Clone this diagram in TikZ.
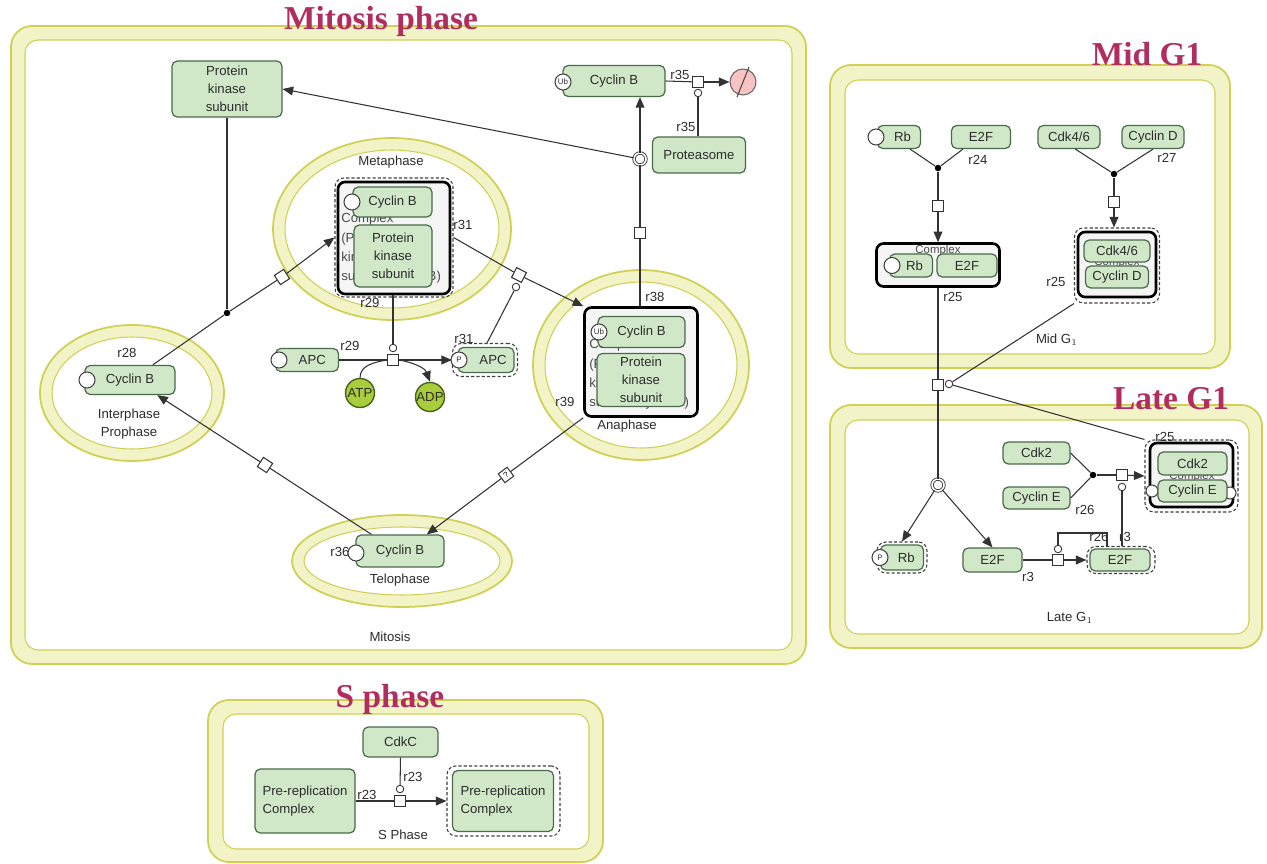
\documentclass[tikz,border=0pt]{standalone}
\usepackage{fontspec}
\setmainfont{Liberation Sans}
\newfontfamily\ttlfont{Liberation Serif}
\usetikzlibrary{arrows.meta,calc}
\definecolor{nodefill}{RGB}{208,232,200}
\definecolor{nodeedge}{RGB}{75,105,75}
\definecolor{bandfill}{RGB}{243,243,200}
\definecolor{bandedge}{RGB}{208,208,85}
\definecolor{ttlc}{RGB}{178,45,95}
\definecolor{txt}{RGB}{45,45,45}
\definecolor{atpfill}{RGB}{170,205,60}
\definecolor{atpedge}{RGB}{70,100,30}
\definecolor{emptyfill}{RGB}{248,195,195}
\newcommand\mylf{\fontsize{7.5}{10.3}\selectfont}
\newcommand\myhf{\fontsize{7.5}{11}\selectfont}
\newcommand\mytf{\fontsize{4.5}{5}\selectfont}
\begin{document}
\begin{tikzpicture}[x=0.02cm,y=-0.02cm,
  sz/.style 2 args={minimum width=#1*0.02cm,minimum height=#2*0.02cm},
  spec/.style={draw=nodeedge,fill=nodefill,rounded corners=3pt,line width=0.7pt,inner sep=0pt,font=\mylf,text=txt,align=center},
  cplx/.style={draw=black,line width=1.5pt,rounded corners=4pt,fill=black!4,inner sep=0pt},
  dsh/.style={draw=black!75,dash pattern=on 1.8pt off 1.2pt,rounded corners=5pt,line width=0.6pt,inner sep=0pt},
  mod/.style={circle,draw=black!75,fill=white,line width=0.6pt,minimum size=0.32cm,inner sep=0pt,font=\mytf,text=txt},
  proc/.style={draw=black!80,fill=white,line width=0.6pt,minimum size=0.22cm,inner sep=0pt},
  cat/.style={circle,draw=black!80,fill=white,line width=0.5pt,minimum size=0.15cm,inner sep=0pt},
  jdot/.style={circle,fill=black,minimum size=0.13cm,inner sep=0pt},
  dbl/.style={circle,draw=black!75,double,double distance=0.9pt,line width=0.5pt,minimum size=0.24cm,inner sep=0pt},
  ln/.style={line width=0.6pt,draw=black!80},
  arr/.style={ln,-{Triangle[length=6pt,width=5pt]}},
  lbl/.style={font=\mylf,text=txt,inner sep=0pt,align=center},
  ttl/.style={font=\ttlfont\bfseries\fontsize{19}{19}\selectfont,text=ttlc,inner sep=0pt,anchor=base},
  band/.style={draw=bandedge,fill=bandfill,line width=1pt},
  inband/.style={draw=bandedge,fill=white,line width=0.6pt},
  metab/.style={circle,draw=atpedge,fill=atpfill,line width=0.8pt,minimum size=0.58cm,inner sep=0pt,font=\mylf,text=txt},
  hid/.style={font=\myhf,text=txt!85,inner sep=0pt,align=left},
  emp/.style={circle,draw=black!60,fill=emptyfill,line width=0.6pt,minimum size=0.52cm,inner sep=0pt}
]
\useasboundingbox (0,0) rectangle (1267,864);
\fill[white] (0,0) rectangle (1267,864);

% ---------- compartments ----------
\draw[band,rounded corners=0.42cm] (11,26) rectangle (806,664);
\draw[inband,rounded corners=0.26cm] (25,40) rectangle (792,650);
\draw[band,rounded corners=0.42cm] (830,65) rectangle (1230,368);
\draw[inband,rounded corners=0.26cm] (845,80) rectangle (1215,354);
\draw[band,rounded corners=0.42cm] (830,405) rectangle (1262,648);
\draw[inband,rounded corners=0.26cm] (845,420) rectangle (1249,634);
\draw[band,rounded corners=0.42cm] (208,700) rectangle (603,862);
\draw[inband,rounded corners=0.26cm] (223,714) rectangle (589,849);

% ellipses
\draw[band] (392,229) ellipse [x radius=2.38cm, y radius=1.82cm];
\draw[inband] (392,229) ellipse [x radius=2.14cm, y radius=1.58cm];
\draw[band] (641,365) ellipse [x radius=2.16cm, y radius=1.90cm];
\draw[inband] (641,365) ellipse [x radius=1.92cm, y radius=1.66cm];
\draw[band] (132,393) ellipse [x radius=1.84cm, y radius=1.36cm];
\draw[inband] (132,393) ellipse [x radius=1.60cm, y radius=1.12cm];
\draw[band] (402,561) ellipse [x radius=2.20cm, y radius=0.92cm];
\draw[inband] (402,561) ellipse [x radius=1.96cm, y radius=0.68cm];

% titles
\node[ttl] (t1) at (381,30) {Mitosis phase};
\node[ttl] (t2) at (1147,66) {Mid G1};
\node[ttl] (t3) at (1171,410) {Late G1};
\node[ttl] (t4) at (390,707) {S phase};

% ---------- Mitosis ----------
\node[spec,sz={110}{56}] (pksT) at (227,89) {Protein\\kinase\\subunit};
\node[spec,sz={102}{31}] (cybUb) at (614,81) {Cyclin B};
\node[mod] (ubm) at (563,82) {Ub};
\node[proc] (s35) at (698,82) {};
\node[cat] (cat35) at (698,93) {};
\node[emp] (empty) at (743,82) {};
\draw[black!70,line width=0.6pt] ($(empty)+(-6,15)$) -- ($(empty)+(6,-15)$);
\node[spec,sz={93}{36}] (prot) at (699,155) {Proteasome};
\node[dbl] (D1) at (640,159) {};
\node[proc] (s38) at (640,233) {};

% metaphase
\node[lbl] (lMeta) at (391,162) {Metaphase};
\node[dsh,sz={118}{119}] (dshM) at (394,237.5) {};
\node[cplx,sz={112}{112}] (cplxM) at (394,238) {};
\node[hid,anchor=north west] (hM) at (341,213) {Complex\\(Protein\\kinase\\subunit-Cyclin B)};
\node[spec,sz={79}{30}] (cybM) at (392.5,202) {Cyclin B};
\node[mod] (mM) at (352,202) {};
\node[spec,sz={78}{62}] (pksM) at (393,256) {Protein\\kinase\\subunit};
\node[lbl] (l31a) at (463,225) {r31};
\node[lbl] (l29a) at (370,303) {r29};

% APC
\node[spec,sz={63}{23}] (apc) at (307,360) {\hspace*{6pt}APC};
\node[mod] (mapc) at (279,360) {};
\node[proc] (s29) at (393,360) {};
\node[cat] (cat29) at (393,348) {};
\node[dsh,sz={65}{33}] (papcD) at (485,360) {};
\node[spec,sz={56}{25}] (papc) at (486,360) {\hspace*{8pt}APC};
\node[mod] (mp) at (459,360) {P};
\node[metab] (atp) at (360,393) {ATP};
\node[metab] (adp) at (430,397) {ADP};
\node[lbl] (l29b) at (350,346) {r29};
\node[lbl] (l31b) at (464,339) {r31};

% anaphase
\node[cplx,sz={113}{109}] (cplxA) at (641,362) {};
\node[hid,anchor=north west] (hA) at (589,339) {Complex\\(Protein\\kinase\\subunit-Cyclin B)};
\node[spec,sz={87}{31}] (cybA) at (641.5,332) {Cyclin B};
\node[mod] (mA) at (599,332) {Ub};
\node[spec,sz={88}{53}] (pksA) at (641,380) {Protein\\kinase\\subunit};
\node[lbl] (lAna) at (627,426) {Anaphase};
\node[lbl] (l38) at (655,297) {r38};
\node[lbl] (l39) at (565,402) {r39};
\node[lbl] (l35a) at (680,75) {r35};
\node[lbl] (l35b) at (686,127) {r35};

% interphase
\node[spec,sz={90}{29}] (cybI) at (130,380) {Cyclin B};
\node[mod] (mI) at (87,380) {};
\node[lbl] (l28) at (127,353) {r28};
\node[lbl] (lInt) at (129,424) {Interphase\\Prophase};

% telophase
\node[lbl] (l36) at (340,552) {r36};
\node[spec,sz={88}{32}] (cybT) at (400,551) {Cyclin B};
\node[mod] (mT) at (356,553) {};
\node[lbl] (lTel) at (400,580) {Telophase};
\node[lbl] (lMit) at (390,637) {Mitosis};

% junctions and diamonds
\node[jdot] (J1) at (227,313) {};
\node[proc,rotate=33] (dm1) at (282,277) {};
\node[proc,rotate=-27] (dm2) at (519,275) {};
\node[cat] (cat31) at (516,287) {};
\node[proc,rotate=37,font=\mytf] (dq) at (506,475) {?};
\node[proc,rotate=-33] (dm3) at (265,465) {};

% mitosis connectors
\draw[ln] (s38 |- cplxA.north) -- (s38);
\draw[ln] (s38) -- (D1);
\draw[arr] (D1) -- (D1 |- cybUb.south);
\draw[arr] (D1) -- (pksT.east);
\draw[ln] (cybUb.east) -- (s35);
\draw[arr] (s35) -- (empty);
\draw[ln] (cat35 |- prot.north) -- (cat35);
\draw[ln] (pksT.south) -- (J1);
\draw[ln] ($(cybI.north)!0.5!(cybI.north east)$) -- (J1);
\draw[ln] (J1) -- (dm1);
\draw[arr] (dm1) -- (dshM.west);
\draw[ln] (dshM.east) -- (dm2);
\draw[arr] (dm2) -- (cplxA.north west);
\draw[ln] (cat31) -- ($(papcD.north)+(2,0)$);
\draw[ln] (apc.east) -- (s29);
\draw[arr] (s29) -- (papcD.west);
\draw[ln] (s29 |- cplxM.south) -- (cat29);
\draw[ln] (atp.north) to[out=90,in=190] (s29.west);
\draw[arr] (s29.east) to[out=-10,in=110] (adp.north);
\draw[ln] (cplxA.south west) -- (dq);
\draw[arr] (dq) -- ($(cybT.north)!0.6!(cybT.north east)$);
\draw[ln] ($(cybT.north west)!0.36!(cybT.north)$) -- (dm3);
\draw[arr] (dm3) -- ($(cybI.south)!0.6!(cybI.south east)$);

% ---------- Mid G1 ----------
\node[spec,sz={43}{23}] (rb1) at (899,137) {\hspace*{4pt}Rb};
\node[mod] (mrb1) at (876,137) {};
\node[spec,sz={59}{23}] (e2f1) at (981,137) {E2F};
\node[spec,sz={62}{23}] (cdk46) at (1069,137) {Cdk4/6};
\node[spec,sz={62}{23}] (cycD) at (1153,137) {Cyclin D};
\node[jdot] (J2) at (938,168) {};
\node[jdot] (J3) at (1114,174) {};
\node[proc] (s24) at (938,206) {};
\node[proc] (s27) at (1114,202) {};
\node[lbl] (l24) at (978,160) {r24};
\node[lbl] (l27) at (1167,158) {r27};

\node[cplx,sz={123}{43}] (cplxRE) at (938,265) {};
\node[hid,font=\fontsize{6.5}{7}\selectfont] (hRE) at (938,251) {Complex};
\node[spec,sz={43}{23}] (rbC) at (911,265.5) {\hspace*{4pt}Rb};
\node[mod] (mrbC) at (892,265.5) {};
\node[spec,sz={60}{23}] (e2fC) at (967,265.5) {E2F};
\node[lbl] (l25a) at (953,297) {r25};

\node[dsh,sz={85}{75}] (cdD) at (1117,265.5) {};
\node[cplx,sz={78}{65}] (cdC) at (1117,264.5) {};
\node[hid,font=\fontsize{6.5}{7}\selectfont] (hCD) at (1117,263) {Complex};
\node[spec,sz={66}{22}] (cdkC) at (1117,251) {Cdk4/6};
\node[spec,sz={63}{22}] (cycDC) at (1117,277) {Cyclin D};
\node[lbl] (l25b) at (1056,282) {r25};
\node[lbl] (lMid) at (1057,340) {Mid G$_1$};

% transition
\node[proc] (s25) at (938,385) {};
\node[cat] (cat25) at (949,384) {};
\node[dbl] (D2) at (938,485) {};

% ---------- Late G1 ----------
\node[spec,sz={67}{22}] (cdk2) at (1036.5,453) {Cdk2};
\node[spec,sz={67}{22}] (cycE) at (1036.5,498) {Cyclin E};
\node[jdot] (J4) at (1093,475) {};
\node[proc] (s26) at (1122,475) {};
\node[cat] (cat26) at (1122,487) {};
\node[lbl] (l26a) at (1085,510) {r26};

\node[dsh,sz={93}{72}] (ltD) at (1191.5,476) {};
\node[cplx,sz={83}{64}] (ltC) at (1191.5,475) {};
\node[mod,minimum size=0.24cm] (mlt1) at (1152,491) {};
\node[mod,minimum size=0.24cm] (mlt2) at (1230,493) {};
\node[hid,font=\fontsize{6.5}{7}\selectfont] (hLT) at (1192,477) {Complex};
\node[spec,sz={69}{23}] (cdk2C) at (1192.5,463.5) {Cdk2};
\node[spec,sz={69}{22}] (cycEC) at (1192.5,491) {Cyclin E};
\node[lbl] (l25c) at (1165,437) {r25};

\node[dsh,sz={50}{31}] (prbD) at (902,557.5) {};
\node[spec,sz={43}{25}] (prb) at (902,557.5) {\hspace*{5pt}Rb};
\node[mod] (mprb) at (880,557.5) {P};
\node[spec,sz={59}{24}] (e2f2) at (992.5,560) {E2F};
\node[proc] (s3) at (1058,560) {};
\node[cat] (cat3) at (1058,549) {};
\node[dsh,sz={68}{27}] (e2f3D) at (1121,560) {};
\node[spec,sz={60}{22}] (e2f3) at (1120,560) {E2F};
\node[lbl] (l3a) at (1028,577) {r3};
\node[lbl] (l26b) at (1099,537) {r26};
\node[lbl] (l3b) at (1125,537) {r3};
\node[lbl] (lLate) at (1070,618) {Late G$_1$};

% G1 connectors
\draw[ln] ($(rb1.south)!0.5!(rb1.south east)$) -- (J2);
\draw[ln] ($(e2f1.south west)!0.4!(e2f1.south)$) -- (J2);
\draw[ln] (J2) -- (s24);
\draw[arr] (s24) -- (s24 |- cplxRE.north);
\draw[ln] ($(cdk46.south)!0.2!(cdk46.south east)$) -- (J3);
\draw[ln] (cycD.south) -- (J3);
\draw[ln] (J3) -- (s27);
\draw[arr] (s27) -- (s27 |- cdD.north);
\draw[ln] (cplxRE.south) -- (s25);
\draw[ln] (s25) -- (D2);
\draw[arr] (D2) -- (prbD.north);
\draw[arr] (D2) -- (e2f2.north);
\draw[ln] (cdD.south west) -- (cat25);
\draw[ln] (cat25) -- (ltD.north west);
\draw[ln] (cdk2.east) -- (J4);
\draw[ln] (cycE.east) -- (J4);
\draw[ln] (J4) -- (s26);
\draw[arr] (s26) -- (ltD.west);
\draw[ln] (cat26 |- e2f3D.north) -- (cat26);
\draw[ln] (e2f2.east) -- (s3);
\draw[arr] (s3) -- (e2f3D.west);
\coordinate (k3) at (1107,533);
\draw[ln] (cat3) |- (k3) -- (k3 |- e2f3D.north);

% ---------- S phase ----------
\node[spec,sz={75}{30}] (cdkc) at (400.5,742) {CdkC};
\node[spec,sz={100}{64},align=left] (preL) at (305,801) {Pre-replication\\Complex};
\node[dsh,sz={113}{70}] (preRD) at (503.5,801) {};
\node[spec,sz={101}{61},align=left] (preR) at (503,801) {Pre-replication\\Complex};
\node[proc] (s23) at (400,801) {};
\node[cat] (cat23) at (400,789) {};
\node[lbl] (l23a) at (413,777) {r23};
\node[lbl] (l23b) at (367,795) {r23};
\node[lbl] (lS) at (403,835) {S Phase};
\draw[ln] (preL.east) -- (s23);
\draw[arr] (s23) -- (preRD.west);
\draw[ln] (cdkc.south) -- (cat23);
\end{tikzpicture}
\end{document}
